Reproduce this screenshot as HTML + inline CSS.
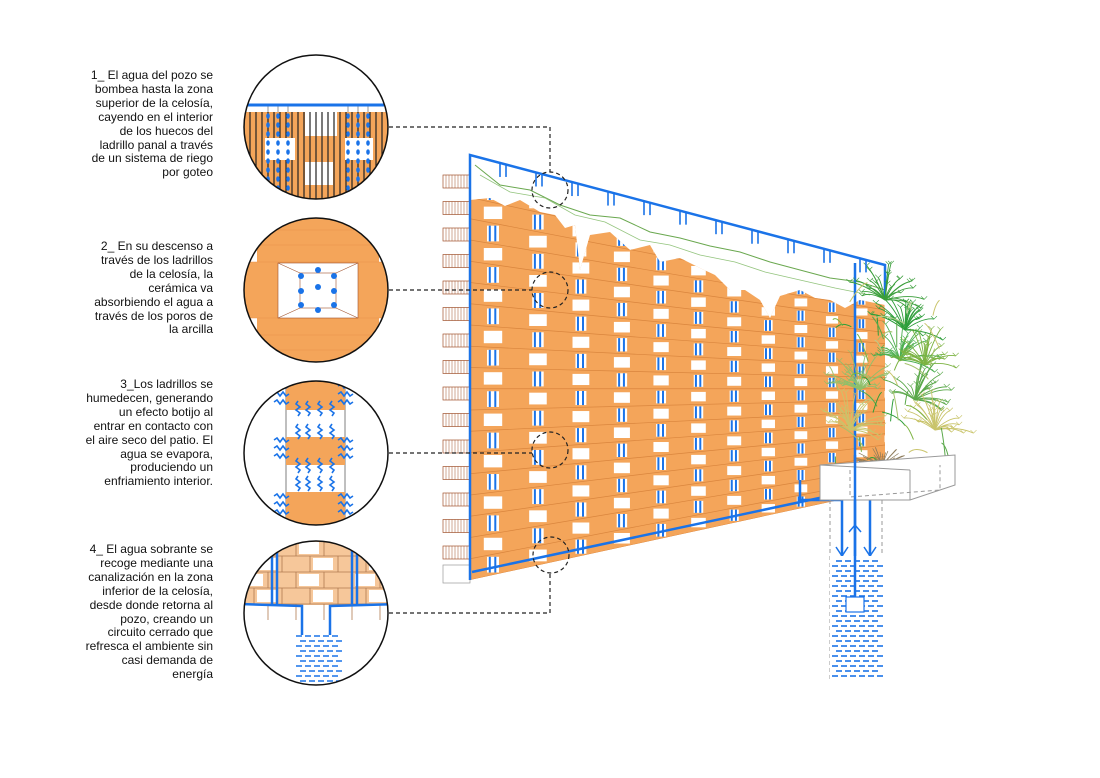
<!DOCTYPE html>
<html><head><meta charset="utf-8"><style>
body{margin:0;background:#fff;width:1100px;height:778px;overflow:hidden;position:relative;font-family:"Liberation Sans",Arial,sans-serif}
.t{position:absolute;right:887px;text-align:right;font-size:12px;line-height:13.9px;color:#111;white-space:nowrap}
svg{position:absolute;left:0;top:0}
</style></head><body>
<div class="t" style="top:69px">1_ El agua del pozo se<br>bombea hasta la zona<br>superior de la celosía,<br>cayendo en el interior<br>de los huecos del<br>ladrillo panal a través<br>de un sistema de riego<br>por goteo</div>
<div class="t" style="top:240px">2_ En su descenso a<br>través de los ladrillos<br>de la celosía, la<br>cerámica va<br>absorbiendo el agua a<br>través de los poros de<br>la arcilla</div>
<div class="t" style="top:378px">3_Los ladrillos se<br>humedecen, generando<br>un efecto botijo al<br>entrar en contacto con<br>el aire seco del patio. El<br>agua se evapora,<br>produciendo un<br>enfriamiento interior.</div>
<div class="t" style="top:543px">4_ El agua sobrante se<br>recoge mediante una<br>canalización en la zona<br>inferior de la celosía,<br>desde donde retorna al<br>pozo, creando un<br>circuito cerrado que<br>refresca el ambiente sin<br>casi demanda de<br>energía</div>

<svg id="s" width="1100" height="778" viewBox="0 0 1100 778">
<defs>
<clipPath id="wallclip"><polygon points="470,200 490,198 505,206 520,200 540,212 555,215 565,228 575,225 580,270 590,235 610,232 630,250 650,245 660,262 680,258 700,268 715,275 730,290 745,290 760,300 770,318 780,296 800,290 815,298 830,300 845,308 860,300 885,305 885,490 470,580"/></clipPath>
<clipPath id="c1"><circle cx="316" cy="127" r="72"/></clipPath>
<clipPath id="c2"><circle cx="316" cy="290" r="72"/></clipPath>
<clipPath id="c3"><circle cx="316" cy="453" r="72"/></clipPath>
<clipPath id="c4"><circle cx="316" cy="613" r="72"/></clipPath>
</defs>
<g id="stubs"></g>
<g clip-path="url(#wallclip)" id="wall"><polygon points="470,155 885,265 885,490 470,580" fill="#f4a55a"/></g>
<polyline points="475,165 500,185 530,190 560,205 590,215 620,218 650,232 680,238 710,246 740,252 770,262 800,270 830,278 860,282 885,290" fill="none" stroke="#6aa84f" stroke-width="1"/>
<polyline points="480,175 510,192 545,198 575,215 605,222 640,240 670,245 700,255 735,262 765,272 800,280 835,288 870,295" fill="none" stroke="#93c47d" stroke-width="0.8"/>
<g stroke="#1a73e8" fill="none" stroke-width="2.5">
<polyline points="470,580 470,155 885,265 885,300"/>
<line x1="472" y1="572" x2="885" y2="484"/>
<line x1="855" y1="263" x2="855" y2="608"/>
<polyline points="800,480 800,500 842,500 842,556"/>
<polyline points="870,500 870,556"/>
<polyline points="875,470 875,500"/>
</g>
<g stroke="#1a73e8" stroke-width="1.5" fill="none">
<polyline points="836,547 842,556 848,547"/><polyline points="864,547 870,556 876,547"/><polyline points="849,532 855,525 861,532"/>
</g>
<g id="plants" fill="none" stroke-width="1"></g>
<g stroke="#999" fill="none" stroke-width="1">
<polygon points="820,465 955,455 955,485 910,500 820,500" fill="#fff"/>
<line x1="910" y1="470" x2="910" y2="500"/>
<line x1="820" y1="465" x2="910" y2="470"/>
<polyline points="830,500 830,680" stroke-dasharray="4,3"/><polyline points="882,500 882,680" stroke-dasharray="4,3"/>
<polyline points="850,470 850,497 940,490 940,465" stroke-dasharray="4,3"/>
</g>
<line x1="855" y1="455" x2="855" y2="608" stroke="#1a73e8" stroke-width="2.5"/>
<rect x="830" y="556" width="53" height="125" fill="#fff"/>
<g id="well"></g>
<line x1="855" y1="556" x2="855" y2="598" stroke="#1a73e8" stroke-width="2.5"/>
<rect x="846" y="597" width="18" height="15" fill="#fff" stroke="#1a73e8" stroke-width="1.2"/>
<g fill="none" stroke="#222" stroke-width="1.2" stroke-dasharray="4,3">
<circle cx="550" cy="190" r="18"/><circle cx="550" cy="290" r="18"/><circle cx="550" cy="450" r="18"/><circle cx="551" cy="555" r="18"/>
<polyline points="389,127 550,127 550,172"/>
<line x1="389" y1="290" x2="532" y2="290"/>
<line x1="389" y1="453" x2="532" y2="453"/>
<polyline points="389,613 550,613 550,573"/>
</g>
<g clip-path="url(#c1)">
<rect x="240" y="50" width="160" height="160" fill="#fff"/>
<rect x="240" y="112" width="160" height="90" fill="#f4a55a"/>
<rect x="305" y="110" width="32" height="26" fill="#fff"/>
<rect x="305" y="162" width="28" height="23" fill="#fff"/>
<g id="c1s"></g>
<rect x="265" y="138" width="30" height="22" fill="#fff"/>
<rect x="345" y="138" width="28" height="22" fill="#fff"/>
<g id="c1d"></g>
<line x1="240" y1="105" x2="400" y2="105" stroke="#1a73e8" stroke-width="3"/>
</g>
<circle cx="316" cy="127" r="72" fill="none" stroke="#111" stroke-width="1.5"/>
<g clip-path="url(#c2)">
<rect x="240" y="210" width="160" height="160" fill="#fff"/>
<rect x="257" y="210" width="122" height="160" fill="#f4a55a"/>
<rect x="240" y="262" width="160" height="56" fill="#f4a55a"/>
<g stroke="#e8944a" stroke-width="0.6"><line x1="240" y1="230" x2="400" y2="230"/><line x1="240" y1="245" x2="400" y2="245"/><line x1="240" y1="262" x2="400" y2="262"/><line x1="240" y1="318" x2="400" y2="318"/><line x1="240" y1="335" x2="400" y2="335"/><line x1="240" y1="350" x2="400" y2="350"/></g>
<rect x="278" y="263" width="80" height="55" fill="#fff" stroke="#a0522d" stroke-width="0.6"/>
<rect x="300" y="273" width="36" height="35" fill="#fff" stroke="#a0522d" stroke-width="0.6"/>
<g stroke="#a0522d" stroke-width="0.6"><line x1="278" y1="263" x2="300" y2="273"/><line x1="358" y1="263" x2="336" y2="273"/><line x1="278" y1="318" x2="300" y2="308"/><line x1="358" y1="318" x2="336" y2="308"/></g>
<g fill="#1a73e8"><circle cx="318" cy="270" r="3"/><circle cx="301" cy="276" r="3"/><circle cx="334" cy="276" r="3"/><circle cx="318" cy="287" r="3"/><circle cx="301" cy="291" r="3"/><circle cx="334" cy="291" r="3"/><circle cx="301" cy="305" r="3"/><circle cx="334" cy="305" r="3"/><circle cx="318" cy="310" r="3"/></g>
</g>
<circle cx="316" cy="290" r="72" fill="none" stroke="#111" stroke-width="1.5"/>
<g clip-path="url(#c3)">
<rect x="240" y="375" width="160" height="160" fill="#fff"/>
<rect x="286" y="380" width="59" height="150" fill="#fff" stroke="#aaa" stroke-width="1.5"/>
<rect x="286" y="380" width="59" height="30" fill="#f4a55a"/>
<rect x="286" y="437" width="59" height="28" fill="#f4a55a"/>
<rect x="286" y="492" width="59" height="35" fill="#f4a55a"/>
<g id="c3a" stroke="#1a73e8" stroke-width="1.6" fill="none"></g>
</g>
<circle cx="316" cy="453" r="72" fill="none" stroke="#111" stroke-width="1.5"/>
<g clip-path="url(#c4)">
<rect x="240" y="535" width="160" height="160" fill="#fff"/>
<rect x="240" y="535" width="160" height="70" fill="#f6c79a"/>
<g id="c4b"></g>
<g stroke="#1a73e8" stroke-width="2.5" fill="none">
<polyline points="240,604 302,606 302,635"/><polyline points="400,604 330,606 330,635"/>
<line x1="272" y1="540" x2="272" y2="604"/><line x1="277" y1="540" x2="277" y2="604"/>
<line x1="352" y1="540" x2="352" y2="604"/><line x1="357" y1="540" x2="357" y2="604"/>
</g>
<g id="c4w"></g>
</g>
<circle cx="316" cy="613" r="72" fill="none" stroke="#111" stroke-width="1.5"/>
</svg>
<script>
(function(){
var NS="http://www.w3.org/2000/svg";
function el(p,t,a){var e=document.createElementNS(NS,t);for(var k in a)e.setAttribute(k,a[k]);document.getElementById(p).appendChild(e);return e;}
var x0=470;
function topY(x){return 155+(x-x0)*110/415;}
function botY(x){return 580-(x-x0)*90/415;}
function Y(x,v){return topY(x)+(botY(x)-topY(x))*v;}
var R=20;
var xs=[470];var w=46;while(xs[xs.length-1]<885){xs.push(xs[xs.length-1]+w);w*=0.955;}
for(var j=0;j<R;j++){
 var v0=j/R,v1=(j+1)/R;
 el("wall","line",{x1:470,y1:Y(470,v1),x2:885,y2:Y(885,v1),stroke:"#d9853d","stroke-width":0.7});
 for(var i=0;i<xs.length-1;i++){
  var a=xs[i],b=xs[i+1],m=(a+b)/2,cw=(b-a);
  var ya=Y(m,v0),yb=Y(m,v1),h=yb-ya;
  if((i+j)%2==0){
   el("wall","rect",{x:m-cw*0.2,y:ya+h*0.2,width:cw*0.4,height:h*0.6,fill:"#fff"});
  } else {
   el("wall","rect",{x:m-cw*0.13,y:ya+h*0.12,width:cw*0.26,height:h*0.76,fill:"#fff"});
   el("wall","line",{x1:m-cw*0.07,y1:ya+h*0.12,x2:m-cw*0.07,y2:ya+h*0.88,stroke:"#1a73e8","stroke-width":2});
   el("wall","line",{x1:m+cw*0.05,y1:ya+h*0.12,x2:m+cw*0.05,y2:ya+h*0.88,stroke:"#1a73e8","stroke-width":2});
  }
 }
}
for(var x=500;x<880;x+=36){var t=topY(x);el("s","line",{x1:x,y1:t,x2:x,y2:t+14,stroke:"#1a73e8","stroke-width":1.6});el("s","line",{x1:x+6,y1:t+1.5,x2:x+6,y2:t+14,stroke:"#1a73e8","stroke-width":1.6});}
for(var y=175;y<565;y+=26.5){el("stubs","rect",{x:443,y:y,width:27,height:13,fill:"#fff",stroke:"#a0522d","stroke-width":0.7});for(var k=446;k<470;k+=3)el("stubs","line",{x1:k,y1:y,x2:k,y2:y+13,stroke:"#a0522d","stroke-width":0.5});}
el("stubs","rect",{x:443,y:565,width:27,height:18,fill:"#fff",stroke:"#999","stroke-width":0.7});
for(var y=561;y<680;y+=5){var off=((y/5)|0)%2?0:4;for(var x=832+off;x<880;x+=9)el("well","line",{x1:x,y1:y,x2:x+6,y2:y,stroke:"#1a73e8","stroke-width":1.6});}
var seed=7;function rnd(){seed=(seed*9301+49297)%233280;return seed/233280;}
// plants: leaves as clusters of fronds
var cols=["#2e9e3a","#5aa84a","#7cb342","#a5c26b","#c9c46b","#b8d08a"];
var centers=[[905,330,"#2e9e3a"],[885,300,"#3a9e3a"],[860,390,"#8fbf6a"],[915,400,"#5aa84a"],[935,430,"#c9c46b"],[850,430,"#c9c46b"],[900,360,"#4caf50"],[925,365,"#7cb342"]];
centers.forEach(function(c){
 for(var n=0;n<26;n++){var a=-Math.PI*0.95+rnd()*Math.PI*1.1;var r=14+rnd()*26;
  var x2=c[0]+Math.cos(a)*r,y2=c[1]+Math.sin(a)*r;
  el("plants","path",{d:"M"+c[0]+","+c[1]+" Q"+(c[0]+Math.cos(a)*r*0.6)+","+(c[1]+Math.sin(a)*r*0.6-6)+" "+x2+","+y2,stroke:c[2],"stroke-width":0.9});
  el("plants","path",{d:"M"+(x2-3)+","+(y2-3)+" l3,3 l3,-3",stroke:c[2],"stroke-width":0.6});
 }});
for(var n=0;n<40;n++){var cx=835+rnd()*110,cy=300+rnd()*160;var r=6+rnd()*14,a=rnd()*6.28;
 el("plants","path",{d:"M"+cx+","+cy+" q"+(Math.cos(a)*r)+","+(Math.sin(a)*r-6)+" "+(Math.cos(a)*r*1.6)+","+(Math.sin(a)*r*1.6),stroke:cols[n%6]});}
for(var n=0;n<40;n++){var a=Math.PI+rnd()*Math.PI;var r=10+rnd()*22;el("plants","line",{x1:882,y1:465,x2:882+Math.cos(a)*r,y2:465+Math.sin(a)*r*0.6,stroke:"#8d7b5a","stroke-width":0.7});}
for(var x=244;x<392;x+=6){el("c1s","line",{x1:x,y1:112,x2:x,y2:200,stroke:"#222","stroke-width":1.2});}
[268,278,288,348,358,368].forEach(function(x){el("c1d","line",{x1:x,y1:106,x2:x,y2:112,stroke:"#999"});for(var y=116;y<195;y+=9)el("c1d","ellipse",{cx:x,cy:y,rx:1.8,ry:2.8,fill:"#1a73e8"});});
function sq(x,y,horiz){var d=horiz?"M"+x+","+y+" l3,-2 l3,4 l3,-4 l3,4 l3,-2":"M"+x+","+y+" l-2,3 l4,3 l-4,3 l4,3 l-2,3";el("c3a","path",{d:d});}
[[386,400],[440,458],[496,512]].forEach(function(p){for(var y=p[0];y<=p[1]+4;y+=8){sq(274,y,1);sq(338,y,1);}});
[405,428,462,480].forEach(function(yy){[298,308,320,332].forEach(function(x){sq(x,yy-4,0);});});
for(var y=540,r=0;y<605;y+=16,r++){el("c4b","line",{x1:240,y1:y,x2:400,y2:y,stroke:"#b07a50","stroke-width":0.8});for(var x=240+(r%2)*14;x<400;x+=28){el("c4b","line",{x1:x,y1:y,x2:x,y2:y+16,stroke:"#b07a50","stroke-width":0.8});if(((x/28)|0)%2==r%2)el("c4b","rect",{x:x+3,y:y+2,width:20,height:12,fill:"#fff"});}}
for(var y=636;y<690;y+=5){var off=((y/5)|0)%2?0:4;for(var x=296+off;x<340;x+=9)el("c4w","line",{x1:x,y1:y,x2:x+6,y2:y,stroke:"#1a73e8","stroke-width":1.6});}
})();
</script>
</body></html>
